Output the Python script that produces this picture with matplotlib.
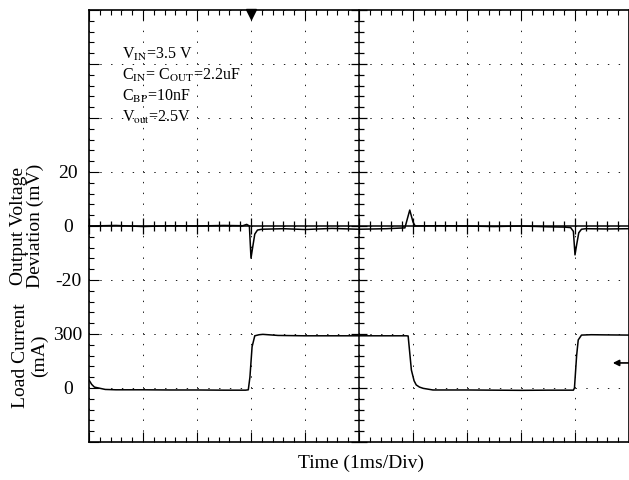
import matplotlib
matplotlib.use("Agg")
import matplotlib.pyplot as plt
from matplotlib.ticker import MultipleLocator, FuncFormatter

plt.rcParams['font.family'] = ['Liberation Serif', 'DejaVu Serif']
plt.rcParams['mathtext.fontset'] = 'stix'

# output voltage deviation (mV), time in ms
v_time = [0, 0.5, 1.0, 1.5, 2.0, 2.5, 2.85, 2.92, 2.97, 3.0, 3.03, 3.07, 3.12, 3.2,
          3.6, 4.0, 4.5, 5.0, 5.5, 5.85, 5.9, 5.94, 6.0, 6.04, 6.5, 7.0, 7.5, 8.0,
          8.5, 8.8, 8.92, 8.97, 9.0, 9.03, 9.07, 9.12, 9.2, 9.6, 10]
v_dev = [0, 0.2, -0.2, 0.1, 0, 0.2, 0.1, 0.6, 0, -11.9, -8, -3, -1.5, -1.2,
         -1.0, -1.3, -0.9, -1.2, -1.0, -0.7, 3, 5.9, 1.5, 0, 0.1, 0, -0.2, 0,
         -0.3, -0.4, -0.6, -2, -10.7, -7, -2.5, -1.2, -1.0, -1.1, -1.0]

# load current (mA)
i_time = [0, 0.05, 0.1, 0.3, 0.5, 1.0, 1.5, 2.0, 2.5, 2.9, 2.95, 2.98, 3.02, 3.07,
          3.15, 3.22, 3.5, 4.0, 4.5, 5.0, 5.5, 5.88, 5.91, 5.97, 6.02, 6.06, 6.12,
          6.19, 6.37, 7.0, 7.5, 8.0, 8.5, 8.97, 8.99, 9.03, 9.06, 9.12, 9.3, 9.6, 10]
i_load = [44, 20, 5, -8, -10, -10, -11, -11, -12, -12, -10, 60, 229, 290,
          296, 298, 292, 290, 290, 290, 290, 290, 289, 100, 40, 17, 5,
          -2, -11, -11, -12, -13, -12, -12, 0, 180, 267, 294, 296, 295, 294]

v_ticks = [20, 0, -20]
i_ticks = [300, 0]
trigger_time = 3.0
notes = [r'V$_{\rm IN}$=3.5 V',
         r'C$_{\rm IN}$= C$_{\rm OUT}$=2.2uF',
         r'C$_{\rm BP}$=10nF',
         r'V$_{\rm out}$=2.5V']

W, H = 629, 480
rect = [89 / W, 38 / H, 540 / W, 432 / H]
fig = plt.figure(figsize=(W / 100, H / 100), dpi=100)

# main frame = voltage axis, 20 mV/div, 0 at screen centre
ax = fig.add_axes(rect)
ax.set_xlim(0, 10)
ax.set_ylim(-80, 80)
ax.xaxis.set_major_locator(MultipleLocator(1))
ax.xaxis.set_minor_locator(MultipleLocator(0.2))
ax.yaxis.set_major_locator(MultipleLocator(20))
ax.yaxis.set_minor_locator(MultipleLocator(4))
ax.yaxis.set_major_formatter(FuncFormatter(lambda v, p: f'{v:g}' if v in v_ticks else ''))
ax.tick_params(which='both', direction='in', top=True, right=True, labelbottom=False,
               width=0.8, colors='black', labelsize=14, pad=15)
ax.tick_params(which='major', length=7.2)
ax.tick_params(which='minor', length=3.6)
for lab in ax.get_yticklabels():
    lab.set_horizontalalignment('center')
for s in ax.spines.values():
    s.set_linewidth(1.2)
ax.grid(which='major', color='#222222', linewidth=0.72, linestyle=(0, (1.4, 9.4)))
ax.plot(v_time, v_dev, color='black', lw=1.1)

# load current on a second scale, 300 mA/div, 0 three divisions below centre
ax_i = ax.twinx()
ax_i.set_ylim(-300, 2100)
ax_i.yaxis.tick_left()
ax_i.set_yticks(i_ticks)
ax_i.tick_params(length=0, labelsize=14, pad=15)
for lab in ax_i.get_yticklabels():
    lab.set_horizontalalignment('center')
for s in ax_i.spines.values():
    s.set_visible(False)
ax_i.plot(i_time, i_load, color='black', lw=1.1)

# centre crosshair with graticule ticks
ax_c = fig.add_axes(rect, sharex=ax)
ax_c.set_ylim(-80, 80)
ax_c.patch.set_visible(False)
ax_c.yaxis.set_major_locator(MultipleLocator(20))
ax_c.yaxis.set_minor_locator(MultipleLocator(4))
ax_c.spines['left'].set_position(('axes', 0.5))
ax_c.spines['bottom'].set_position(('axes', 0.5))
ax_c.spines['top'].set_visible(False)
ax_c.spines['right'].set_visible(False)
for s in ['left', 'bottom']:
    ax_c.spines[s].set_linewidth(1.1)
ax_c.tick_params(which='both', direction='inout', labelbottom=False, labelleft=False,
                 width=0.9, colors='black')
ax_c.tick_params(which='major', length=12)
ax_c.tick_params(which='minor', length=7)

# trigger marker (just under the top edge) and level arrow on the right
ax_c.plot([trigger_time], [78.6], marker='v', color='black', ms=7, clip_on=False)
ax_c.annotate('', xy=(0.97, 0.183), xytext=(1.0, 0.183), xycoords='axes fraction',
              arrowprops=dict(arrowstyle='-|>', color='black', lw=1.2, mutation_scale=9,
                              shrinkA=0, shrinkB=0))

for k, t in enumerate(notes):
    ax_c.text(0.061, 0.896 - k * 0.0485, t, transform=ax_c.transAxes, fontsize=11.5,
              va='center', ha='left')

fig.text(27 / W, 1 - 226 / H, 'Output Voltage\nDeviation (mV)', rotation=90,
         ha='center', va='center', fontsize=14, linespacing=1.0, multialignment='center')
fig.text(30 / W, 1 - 356 / H, 'Load Current\n(mA)', rotation=90,
         ha='center', va='center', fontsize=14, linespacing=1.1, multialignment='center')
fig.text(361 / W, 1 - 463 / H, 'Time (1ms/Div)', ha='center', va='center', fontsize=14)

fig.savefig('out.png', dpi=100)
